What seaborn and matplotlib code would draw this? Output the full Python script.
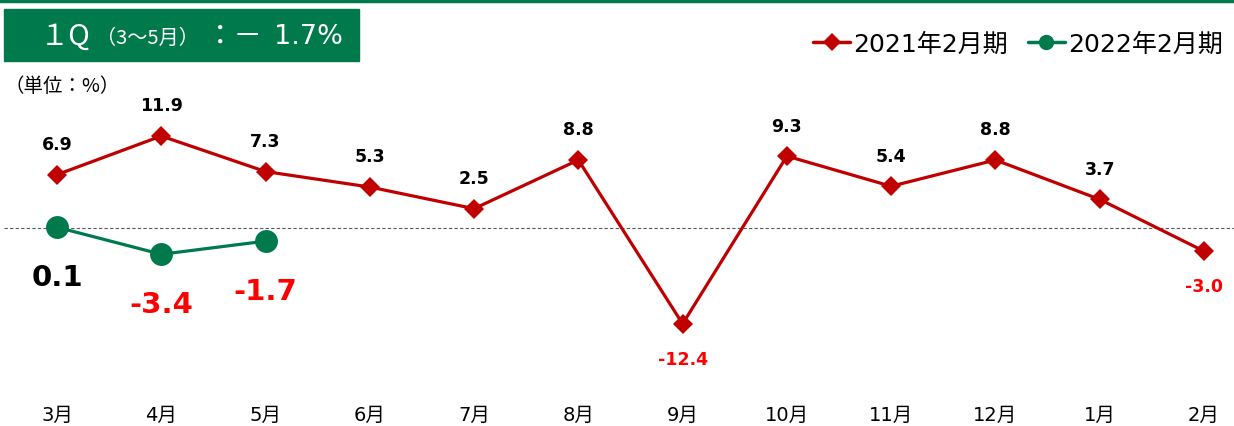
import matplotlib
matplotlib.use('Agg')
import matplotlib.pyplot as plt
from matplotlib.patches import Rectangle
from matplotlib.lines import Line2D
import pandas as pd
import seaborn as sns

months = ['3月', '4月', '5月', '6月', '7月', '8月', '9月', '10月', '11月', '12月', '1月', '2月']
fy2021 = [6.9, 11.9, 7.3, 5.3, 2.5, 8.8, -12.4, 9.3, 5.4, 8.8, 3.7, -3.0]
fy2022 = [0.1, -3.4, -1.7]
series_names = ['2021年2月期', '2022年2月期']

RED = '#C00000'
GREEN = '#007A4D'

sns.set_style('white')
plt.rcParams['font.family'] = ['DejaVu Sans', 'Noto Sans CJK JP']
plt.rcParams['text.color'] = 'black'
plt.rcParams['xtick.color'] = 'black'
CJK = ['Noto Sans CJK JP', 'DejaVu Sans']

data = pd.concat([
    pd.DataFrame({'idx': range(len(fy2021)), 'value': fy2021, 'series': series_names[0]}),
    pd.DataFrame({'idx': range(len(fy2022)), 'value': fy2022, 'series': series_names[1]}),
])

W, H = 1234, 427
fig = plt.figure(figsize=(W / 100, H / 100), dpi=100)
ax = fig.add_axes([4 / W, 1 - 400 / H, 1 - 4 / W, (400 - 70) / H])

sns.lineplot(data=data, x='idx', y='value', hue='series', style='series',
             palette={series_names[0]: RED, series_names[1]: GREEN},
             markers={series_names[0]: 'D', series_names[1]: 'o'},
             dashes=False, sort=False, linewidth=2.3, legend=False, ax=ax,
             markeredgewidth=0)
# marker sizes per series
for line, ms in zip(ax.lines, [10.5, 16.5]):
    line.set_markersize(ms)

ax.axhline(0, color='#595959', linestyle=(0, (3, 2)), linewidth=0.8, zorder=0)

ax.set_xlim((4 - 57) / 104.27, (W - 57) / 104.27)
ax.set_ylim(-(400 - 229) / 7.73, (229 - 70) / 7.73)
ax.set_xticks(range(len(months)))
ax.set_xticklabels(months, fontsize=14, color='black')
ax.tick_params(axis='x', length=0, pad=4)
ax.set_yticks([])
ax.set_xlabel('')
ax.set_ylabel('')
for s in ax.spines.values():
    s.set_visible(False)

# data labels
for i, v in enumerate(fy2021):
    if v >= 0:
        ax.annotate(f'{v:.1f}', (i, v), xytext=(0, 22), textcoords='offset points',
                    ha='center', va='center', fontsize=12.5, fontweight='bold', color='black')
    else:
        ax.annotate(f'{v:.1f}', (i, v), xytext=(0, -25), textcoords='offset points',
                    ha='center', va='center', fontsize=12.5, fontweight='bold', color='red')
for i, v in enumerate(fy2022):
    ax.annotate(f'{v:.1f}', (i, v), xytext=(0, -36), textcoords='offset points',
                ha='center', va='center', fontsize=21, fontweight='bold',
                color='black' if v >= 0 else 'red')

# legend
handles = [Line2D([], [], color=RED, marker='D', markersize=9, linewidth=2.5, markeredgewidth=0),
           Line2D([], [], color=GREEN, marker='o', markersize=11, linewidth=2.5, markeredgewidth=0)]
fig.legend(handles, series_names, loc='center right', bbox_to_anchor=(1.009, 1 - 45 / H),
           ncol=2, frameon=False, fontsize=18, handlelength=1.5, handletextpad=0.1,
           columnspacing=0.8, labelcolor='black')

# top rule and title box
fig.add_artist(Line2D([0, 1], [1 - 2 / H, 1 - 2 / H], color=GREEN, linewidth=2.5))
fig.add_artist(Rectangle((4 / W, 1 - 62 / H), 355 / W, 52 / H, color=GREEN, transform=fig.transFigure))
fig.text(40 / W, 1 - 37 / H, '１Q', color='white', fontsize=21, va='center', ha='left', family=CJK)
fig.text(96 / W, 1 - 38 / H, '（3～5月）', color='white', fontsize=14.5, va='center', ha='left', family=CJK)
fig.text(206 / W, 1 - 37 / H, '：－', color='white', fontsize=20.5, va='center', ha='left', family=CJK)
fig.text(274 / W, 1 - 37 / H, '1.7%', color='white', fontsize=19.5, va='center', ha='left')
fig.text(4 / W, 1 - 86 / H, '（単位：%）', color='black', fontsize=14, va='center', ha='left', family=CJK)

fig.savefig('out.png', dpi=100)
plt.close(fig)
